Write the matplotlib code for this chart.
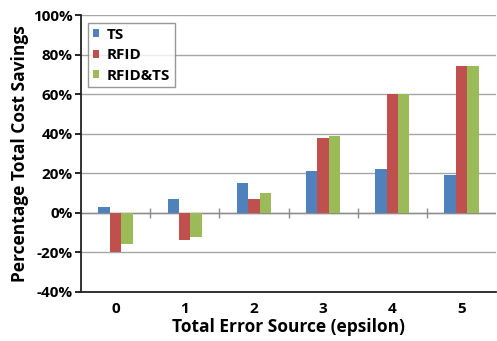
import matplotlib.pyplot as plt
import numpy as np
from matplotlib.ticker import FuncFormatter

# values (percent)
epsilon = ['0', '1', '2', '3', '4', '5']
ts = [3, 7, 15, 21, 22, 19]
rfid = [-20, -14, 7, 38, 60, 74]
rfid_ts = [-16, -12, 10, 39, 60, 74]

plt.rcParams['font.family'] = ['Open Sans', 'DejaVu Sans']
plt.rcParams['font.weight'] = 'bold'

fig = plt.figure(figsize=(4.97, 3.41), dpi=100)
ax = fig.add_axes([0.163, 0.144, 0.835, 0.812])

x = np.arange(len(epsilon))
w = 0.165
colors = ['#4F81BD', '#C0504D', '#9BBB59']
for k, (vals, name) in enumerate(zip([ts, rfid, rfid_ts], ['TS', 'RFID', 'RFID&TS'])):
    ax.bar(x + (k - 1) * w, vals, w, color=colors[k], label=name, zorder=3)

ax.set_xlim(-0.5, len(epsilon) - 0.5)
ax.set_ylim(-40, 100)
ax.set_yticks(np.arange(-40, 101, 20))
ax.yaxis.set_major_formatter(FuncFormatter(lambda v, p: f'{v:.0f}%'))
ax.set_xticks(x)
ax.set_xticklabels(epsilon)
ax.tick_params(axis='x', length=0, labelsize=11, pad=7)
ax.tick_params(axis='y', length=4, width=1.2, labelsize=11, pad=2)

ax.grid(axis='y', color='#a6a6a6', linewidth=1.0, zorder=0)
ax.axhline(0, color='#8c8c8c', linewidth=1.0, zorder=2)
# category separator ticks on the zero line
ax.vlines(x[:-1] + 0.5, -2.5, 2.5, color='#8c8c8c', linewidth=1.0, zorder=2)

for s in ['top', 'right']:
    ax.spines[s].set_visible(False)
for s in ['left', 'bottom']:
    ax.spines[s].set_color('#222222')
    ax.spines[s].set_linewidth(1.3)

ax.set_ylabel('Percentage Total Cost Savings', fontsize=12.5, fontweight='bold', labelpad=3)
ax.set_xlabel('Total Error Source (epsilon)', fontsize=12.5, fontweight='bold', labelpad=2)

leg = ax.legend(loc='upper left', bbox_to_anchor=(0.017, 0.97), fontsize=11,
                frameon=True, fancybox=False, handlelength=0.42, handleheight=0.42,
                handletextpad=0.5, borderpad=0.3, labelspacing=0.42, borderaxespad=0)
leg.get_frame().set_edgecolor('#7f7f7f')
leg.get_frame().set_linewidth(1.0)

fig.savefig('out.png', dpi=100)
